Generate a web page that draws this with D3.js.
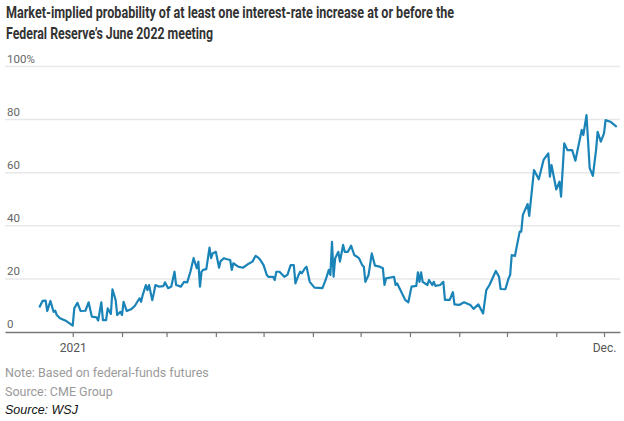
<!DOCTYPE html>
<html>
<head>
<meta charset="utf-8">
<script src="https://d3js.org/d3.v7.min.js"></script>
<style>
	body { margin: 0; background: #fff; }
	svg { display: block; }
</style>
</head>
<body>
<div id="chart"></div>
<script>
// chart text
var TITLE_LINES = [
	"Market-implied probability of at least one interest-rate increase at or before the",
	"Federal Reserve\u2019s June 2022 meeting"
];
var NOTE_LINES = ["Note: Based on federal-funds futures", "Source: CME Group"];
var CREDIT = "Source: WSJ";

// y ticks, percent
var Y_TICKS = [0, 20, 40, 60, 80, 100];

// x tick labels (only first and last month are labelled)
var X_TICK_LABELS = { "2021-01": "2021", "2021-12": "Dec." };

// dates, one per turning point
var DATES = [
	"2020-12-11","2020-12-13","2020-12-15","2020-12-16","2020-12-18","2020-12-20","2020-12-21","2020-12-22","2020-12-24","2020-12-28",
	"2021-01-01","2021-01-02","2021-01-04","2021-01-06","2021-01-09","2021-01-11","2021-01-13","2021-01-16","2021-01-17","2021-01-19",
	"2021-01-20","2021-01-22","2021-01-23","2021-01-25","2021-01-26","2021-01-28","2021-01-29","2021-01-31","2021-02-01","2021-02-02",
	"2021-02-04","2021-02-07","2021-02-09","2021-02-12","2021-02-13","2021-02-14","2021-02-16","2021-02-17","2021-02-18","2021-02-20",
	"2021-02-21","2021-02-22","2021-02-24","2021-02-27","2021-02-28","2021-03-02","2021-03-04","2021-03-06","2021-03-07","2021-03-10",
	"2021-03-12","2021-03-14","2021-03-16","2021-03-18","2021-03-20","2021-03-21","2021-03-22","2021-03-23","2021-03-24","2021-03-26",
	"2021-03-28","2021-03-29","2021-03-30","2021-04-01","2021-04-03","2021-04-04","2021-04-06","2021-04-08","2021-04-10","2021-04-11",
	"2021-04-12","2021-04-15","2021-04-18","2021-04-21","2021-04-24","2021-04-26","2021-04-28","2021-04-29","2021-05-01","2021-05-03",
	"2021-05-04","2021-05-07","2021-05-08","2021-05-09","2021-05-11","2021-05-14","2021-05-16","2021-05-18","2021-05-20","2021-05-21",
	"2021-05-23","2021-05-24","2021-05-25","2021-05-27","2021-05-28","2021-05-30","2021-06-02","2021-06-07","2021-06-09","2021-06-11",
	"2021-06-12","2021-06-13","2021-06-14","2021-06-15","2021-06-17","2021-06-18","2021-06-20","2021-06-21","2021-06-23","2021-06-25",
	"2021-06-27","2021-06-30","2021-07-02","2021-07-03","2021-07-04","2021-07-06","2021-07-08","2021-07-10","2021-07-13","2021-07-15",
	"2021-07-16","2021-07-17","2021-07-22","2021-07-23","2021-07-24","2021-07-26","2021-07-29","2021-07-31","2021-08-02","2021-08-05",
	"2021-08-06","2021-08-07","2021-08-08","2021-08-09","2021-08-12","2021-08-13","2021-08-15","2021-08-16","2021-08-17","2021-08-20",
	"2021-08-22","2021-08-23","2021-08-26","2021-08-28","2021-08-29","2021-09-01","2021-09-04","2021-09-08","2021-09-10","2021-09-13",
	"2021-09-16","2021-09-18","2021-09-20","2021-09-24","2021-09-26","2021-09-27","2021-09-30","2021-10-02","2021-10-03","2021-10-04",
	"2021-10-06","2021-10-09","2021-10-10","2021-10-11","2021-10-14","2021-10-15","2021-10-18","2021-10-21","2021-10-24","2021-10-27",
	"2021-10-28","2021-10-29","2021-11-01","2021-11-03","2021-11-04","2021-11-06","2021-11-08","2021-11-11","2021-11-13","2021-11-17",
	"2021-11-18","2021-11-20","2021-11-22","2021-11-24","2021-11-26","2021-11-27","2021-11-29","2021-12-01","2021-12-02","2021-12-05",
	"2021-12-09"
];

// probability in percent, same order as DATES
var PROBABILITIES = [
	9.2, 11.7, 11.8, 7.9, 11.7, 7.6, 8.0, 6.4, 5.2, 4.1,
	2.4, 8.9, 11.0, 7.9, 8.0, 11.2, 5.8, 5.5, 4.3, 11.2,
	4.5, 4.5, 8.9, 6.8, 16.1, 12.0, 6.4, 7.6, 6.4, 11.4,
	7.9, 8.7, 9.8, 12.7, 11.4, 13.9, 17.7, 15.8, 17.7, 12.0,
	14.6, 17.7, 17.1, 17.3, 18.7, 16.5, 17.1, 22.7, 17.7, 17.1,
	18.9, 18.7, 22.7, 27.8, 24.0, 26.5, 17.1, 22.7, 23.4, 23.7,
	31.8, 27.8, 29.6, 30.2, 24.2, 26.7, 27.8, 27.4, 27.1, 23.4,
	25.9, 24.6, 24.2, 25.5, 26.5, 28.7, 27.8, 27.1, 25.2, 21.5,
	20.8, 20.8, 19.6, 22.7, 22.7, 20.8, 21.5, 25.2, 25.2, 18.3,
	21.5, 22.7, 22.1, 24.0, 24.6, 18.9, 16.7, 16.5, 19.6, 23.4,
	21.5, 34.0, 20.8, 27.8, 30.2, 26.5, 32.8, 30.2, 30.2, 32.5,
	29.0, 27.8, 25.2, 24.6, 18.9, 21.5, 29.6, 25.0, 24.6, 24.0,
	17.7, 20.2, 20.8, 17.7, 18.3, 15.8, 12.1, 11.2, 17.1, 17.4,
	22.5, 18.9, 22.5, 18.9, 17.7, 19.6, 17.7, 18.9, 17.4, 17.7,
	18.9, 12.1, 12.1, 15.0, 10.4, 10.2, 11.2, 10.2, 8.7, 10.4,
	7.0, 15.8, 17.7, 23.0, 20.8, 16.2, 16.1, 20.2, 21.5, 29.0,
	28.6, 37.8, 37.8, 44.1, 48.2, 43.7, 61.0, 57.5, 64.8, 67.3,
	58.5, 62.9, 53.7, 56.6, 51.0, 71.1, 68.5, 68.5, 64.5, 76.1,
	74.2, 81.7, 61.7, 58.8, 68.5, 75.4, 71.7, 74.8, 79.8, 79.2,
	77.3
];

var WIDTH = 624, HEIGHT = 421;
var LEFT = 5, RIGHT = 620;
var LINE_COLOR = "#1a84b8";
var CONDENSED = "'Liberation Sans Narrow', 'Roboto', 'Liberation Sans', sans-serif";

var parseDate = d3.timeParse("%Y-%m-%d");
var data = DATES.map(function(d, i) {
	return { date: parseDate(d), value: PROBABILITIES[i] };
});

var svg = d3.select("#chart").append("svg")
	.attr("width", WIDTH)
	.attr("height", HEIGHT);

// x scale: anchored on the first and last month ticks, then stretched to the plot edges
var x = d3.scaleTime()
	.domain([parseDate("2021-01-01"), parseDate("2021-12-01")])
	.range([72.7, 604]);
x.domain([x.invert(LEFT), x.invert(RIGHT)]).range([LEFT, RIGHT]);

var y = d3.scaleLinear()
	.domain([0, 100])
	.range([332, 66.5]);

// title
svg.selectAll(".title")
	.data(TITLE_LINES)
	.enter()
	.append("text")
	.attr("class", "title")
	.attr("x", 6)
	.attr("y", function(d, i) { return 18 + i * 21; })
	.attr("textLength", function(d, i) { return i == 0 ? 448 : 207; })
	.attr("lengthAdjust", "spacingAndGlyphs")
	.style("font-family", CONDENSED)
	.style("font-weight", "bold")
	.style("font-size", "16px")
	.style("fill", "#333")
	.text(function(d) { return d; });

// gridlines
svg.selectAll(".grid")
	.data(Y_TICKS.filter(function(d) { return d > 0; }))
	.enter()
	.append("line")
	.attr("class", "grid")
	.attr("x1", LEFT)
	.attr("x2", RIGHT)
	.attr("y1", function(d) { return y(d); })
	.attr("y2", function(d) { return y(d); })
	.attr("stroke", "#e8e8e8")
	.attr("stroke-width", 1.5);

// y labels sit just above their gridline
svg.selectAll(".ylabel")
	.data(Y_TICKS)
	.enter()
	.append("text")
	.attr("class", "ylabel")
	.attr("x", 7)
	.attr("y", function(d) { return y(d) - 4; })
	.style("font-family", CONDENSED)
	.style("font-size", "11.5px")
	.style("fill", "#666")
	.text(function(d) { return d == 100 ? d + "%" : d; });

// x axis with monthly ticks
var xAxis = d3.axisBottom(x)
	.tickValues(d3.timeMonth.range(parseDate("2021-01-01"), parseDate("2021-12-02")))
	.tickSize(5)
	.tickSizeOuter(0)
	.tickPadding(6)
	.tickFormat(function(d) { return X_TICK_LABELS[d3.timeFormat("%Y-%m")(d)] || ""; });

var axis = svg.append("g")
	.attr("transform", "translate(0," + y(0) + ")")
	.call(xAxis);

axis.select(".domain")
	.attr("stroke", "#777")
	.attr("stroke-width", 1.5);
axis.selectAll(".tick line")
	.attr("stroke", "#777")
	.attr("stroke-width", 1.2);
axis.selectAll(".tick text")
	.style("font-family", CONDENSED)
	.style("font-size", "12px")
	.style("fill", "#555");

// the probability line
var line = d3.line()
	.x(function(d) { return x(d.date); })
	.y(function(d) { return y(d.value); });

svg.append("path")
	.datum(data)
	.attr("d", line)
	.attr("fill", "none")
	.attr("stroke", LINE_COLOR)
	.attr("stroke-width", 2.2)
	.attr("stroke-linejoin", "round");

// notes under the chart
svg.selectAll(".note")
	.data(NOTE_LINES)
	.enter()
	.append("text")
	.attr("class", "note")
	.attr("x", 5)
	.attr("y", function(d, i) { return 377 + i * 18.5; })
	.style("font-family", CONDENSED)
	.style("font-size", "12.5px")
	.style("fill", "#9a9a9a")
	.text(function(d) { return d; });

svg.append("text")
	.attr("x", 5)
	.attr("y", 414)
	.style("font-family", "'Liberation Sans', Arial, sans-serif")
	.style("font-style", "italic")
	.style("font-size", "12.5px")
	.style("fill", "#111")
	.text(CREDIT);
</script>
</body>
</html>
